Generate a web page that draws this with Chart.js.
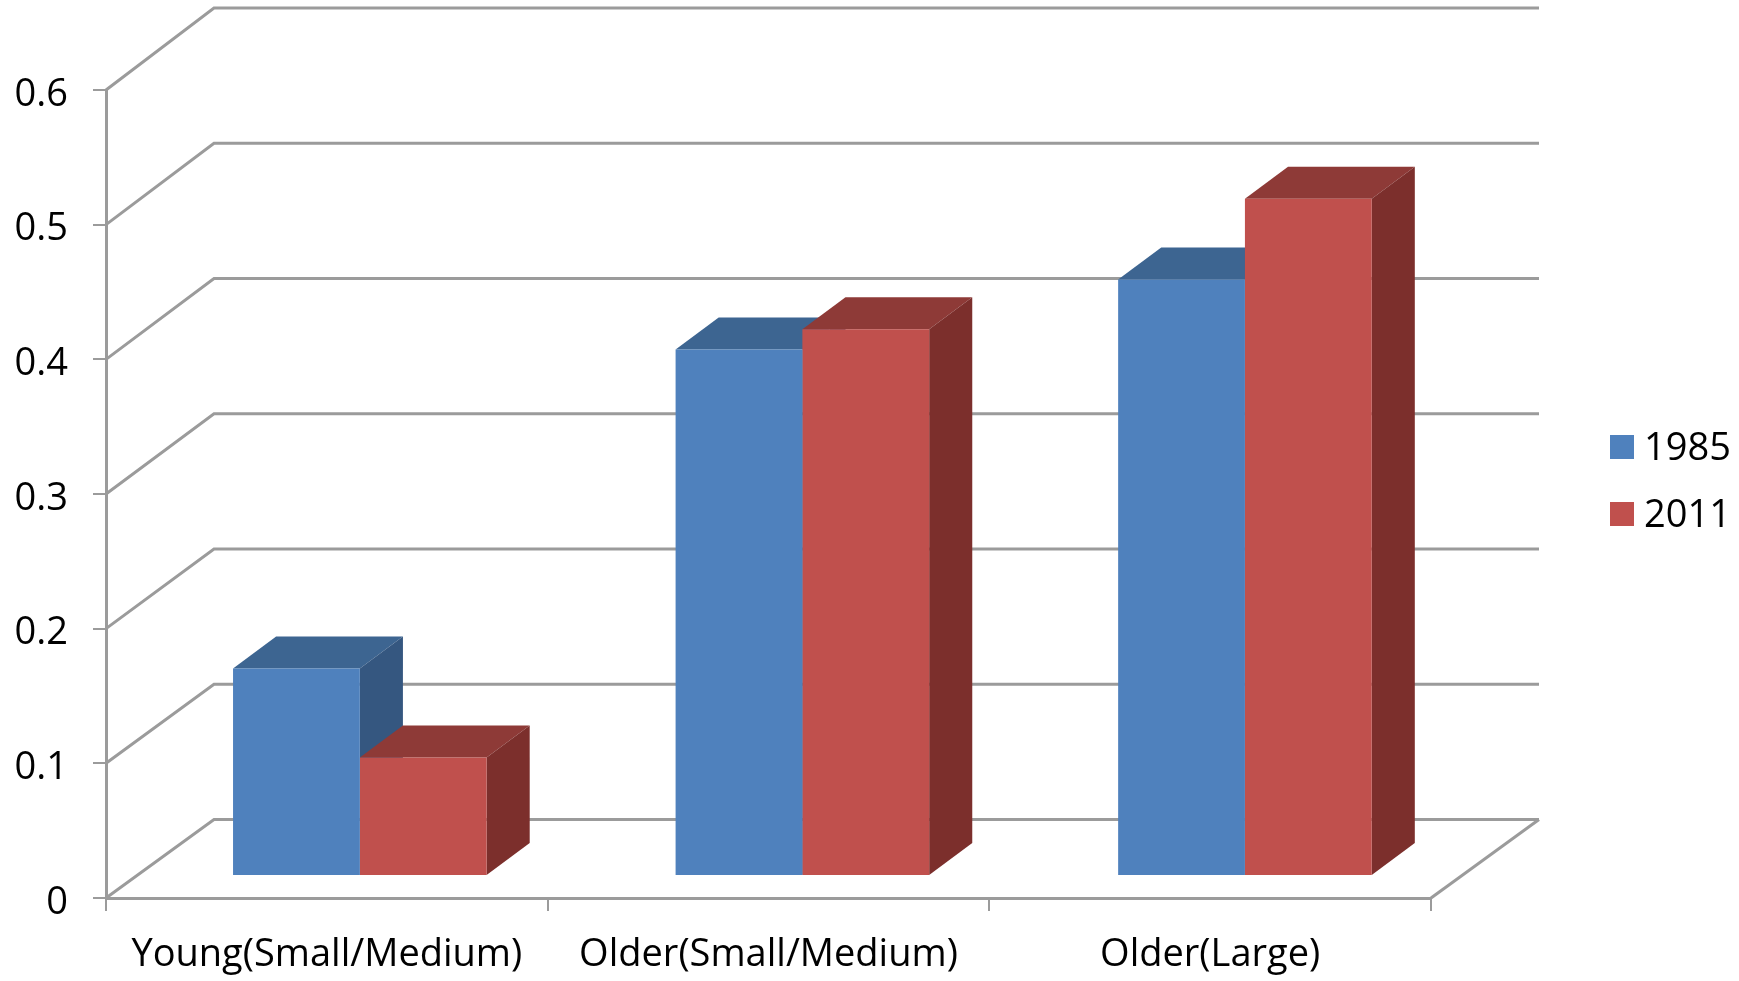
<!DOCTYPE html>
<html>
<head>
<meta charset="utf-8">
<title>Bar chart 1985 / 2011</title>
<script src="https://cdn.jsdelivr.net/npm/chart.js@4"></script>
<style>
  html, body { margin: 0; padding: 0; background: #fff; }
  canvas { display: block; }
</style>
</head>
<body>
<canvas id="chart" width="1739" height="981"></canvas>
<script>
const categories = ["Young(Small/Medium)", "Older(Small/Medium)", "Older(Large)"];
const values1985 = [0.154, 0.391, 0.443];
const values2011 = [0.088, 0.406, 0.503];
const tickLabels = ["0", "0.1", "0.2", "0.3", "0.4", "0.5", "0.6"];

const FONT = '"Open Sans", "Noto Sans", sans-serif';
const FONT_SIZE = 38;
const LINE = "#9b9b9b";

// wall depth and where the bars sit inside it
const wallDx = 108, wallDyTop = 82, wallDyBottom = 78.5;
const barShiftX = 33, barShiftY = -22;
const barStretch = 1.002;
const barDx = 43, barDy = 32;

const shades = [
  { front: "#4f81bd", top: "#3d6591", side: "#355780" },
  { front: "#c0504d", top: "#8e3a37", side: "#7c2f2c" }
];

function poly(ctx, pts, fill) {
  ctx.beginPath();
  pts.forEach((p, i) => (i ? ctx.lineTo(p[0], p[1]) : ctx.moveTo(p[0], p[1])));
  ctx.closePath();
  ctx.fillStyle = fill;
  ctx.fill();
}

const wall = {
  id: "wall",
  beforeDatasetsDraw(chart) {
    const { ctx, chartArea, scales } = chart;
    ctx.save();
    ctx.strokeStyle = LINE;
    ctx.lineWidth = 3;
    // the back wall reads a touch taller than the front plane
    const backY = y => {
      const f = (y - chartArea.top) / (chartArea.bottom - chartArea.top);
      return y - (wallDyTop + (wallDyBottom - wallDyTop) * f);
    };
    scales.y.ticks.forEach(t => {
      const y = scales.y.getPixelForValue(t.value);
      ctx.beginPath();
      ctx.moveTo(chartArea.left, y);
      ctx.lineTo(chartArea.left + wallDx, backY(y));
      ctx.lineTo(chartArea.right + wallDx, backY(y));
      ctx.stroke();
    });
    // right edge of the floor
    ctx.beginPath();
    ctx.moveTo(chartArea.right, chartArea.bottom);
    ctx.lineTo(chartArea.right + wallDx, backY(chartArea.bottom));
    ctx.stroke();
    ctx.restore();
  }
};

// top and side faces come first, the library then paints the fronts over them
const bars3d = {
  id: "bars3d",
  beforeDatasetsDraw(chart) {
    const { ctx, chartArea } = chart;
    const pivot = (chartArea.left + chartArea.width / 6);
    ctx.save();
    ctx.translate(barShiftX + pivot, barShiftY);
    ctx.scale(barStretch, 1);
    ctx.translate(-pivot, 0);
    chart.data.datasets.forEach((ds, d) => {
      chart.getDatasetMeta(d).data.forEach(bar => {
        const l = bar.x - bar.width / 2, r = bar.x + bar.width / 2;
        const t = bar.y, b = bar.base;
        poly(ctx, [[l, t], [l + barDx, t - barDy], [r + barDx, t - barDy], [r, t]], shades[d].top);
        poly(ctx, [[r, t], [r + barDx, t - barDy], [r + barDx, b - barDy], [r, b]], shades[d].side);
      });
    });
    // left on the shifted origin for the fronts
  },
  afterDatasetsDraw(chart) {
    chart.ctx.restore();
  }
};

// digits sit high on a middle baseline, nudge the value labels down
const valueLabelNudge = {
  id: "valueLabelNudge",
  beforeDraw(chart) {
    chart.scales.y.getLabelItems(chart.chartArea).forEach(item => {
      if (!item.nudged) {
        item.options.translation[1] += 5;
        item.nudged = true;
      }
    });
  }
};

const sideLegend = {
  id: "sideLegend",
  afterDraw(chart) {
    const { ctx } = chart;
    ctx.save();
    ctx.font = FONT_SIZE + "px " + FONT;
    ctx.textBaseline = "middle";
    chart.data.datasets.forEach((ds, d) => {
      const y = 447 + d * 67;
      ctx.fillStyle = ds.backgroundColor;
      ctx.fillRect(1610, y - 12, 24, 24);
      ctx.fillStyle = "#000";
      ctx.fillText(ds.label, 1644, y + 2);
    });
    ctx.restore();
  }
};

new Chart(document.getElementById("chart"), {
  type: "bar",
  data: {
    labels: categories,
    datasets: [
      { label: "1985", data: values1985, backgroundColor: shades[0].front, clip: false },
      { label: "2011", data: values2011, backgroundColor: shades[1].front, clip: false }
    ]
  },
  options: {
    responsive: false,
    animation: false,
    categoryPercentage: 0.573,
    barPercentage: 1,
    layout: { padding: { top: 90, right: 308 } },
    plugins: { legend: { display: false }, tooltip: { enabled: false } },
    scales: {
      x: {
        afterFit(s) { s.height = 83; },
        border: { color: LINE, width: 3 },
        grid: { drawOnChartArea: false, color: LINE, lineWidth: 2, tickLength: 13 },
        ticks: { color: "#000", font: { family: FONT, size: FONT_SIZE }, padding: 21, maxRotation: 0, autoSkip: false }
      },
      y: {
        min: 0,
        max: 0.6,
        afterFit(s) { s.width = 106; },
        border: { color: LINE, width: 3 },
        grid: { drawOnChartArea: false, color: LINE, lineWidth: 2, tickLength: 13 },
        ticks: {
          stepSize: 0.1,
          color: "#000",
          font: { family: FONT, size: FONT_SIZE },
          padding: 25,
          callback: (v, i) => tickLabels[i]
        }
      }
    }
  },
  plugins: [wall, bars3d, valueLabelNudge, sideLegend]
});
</script>
</body>
</html>
